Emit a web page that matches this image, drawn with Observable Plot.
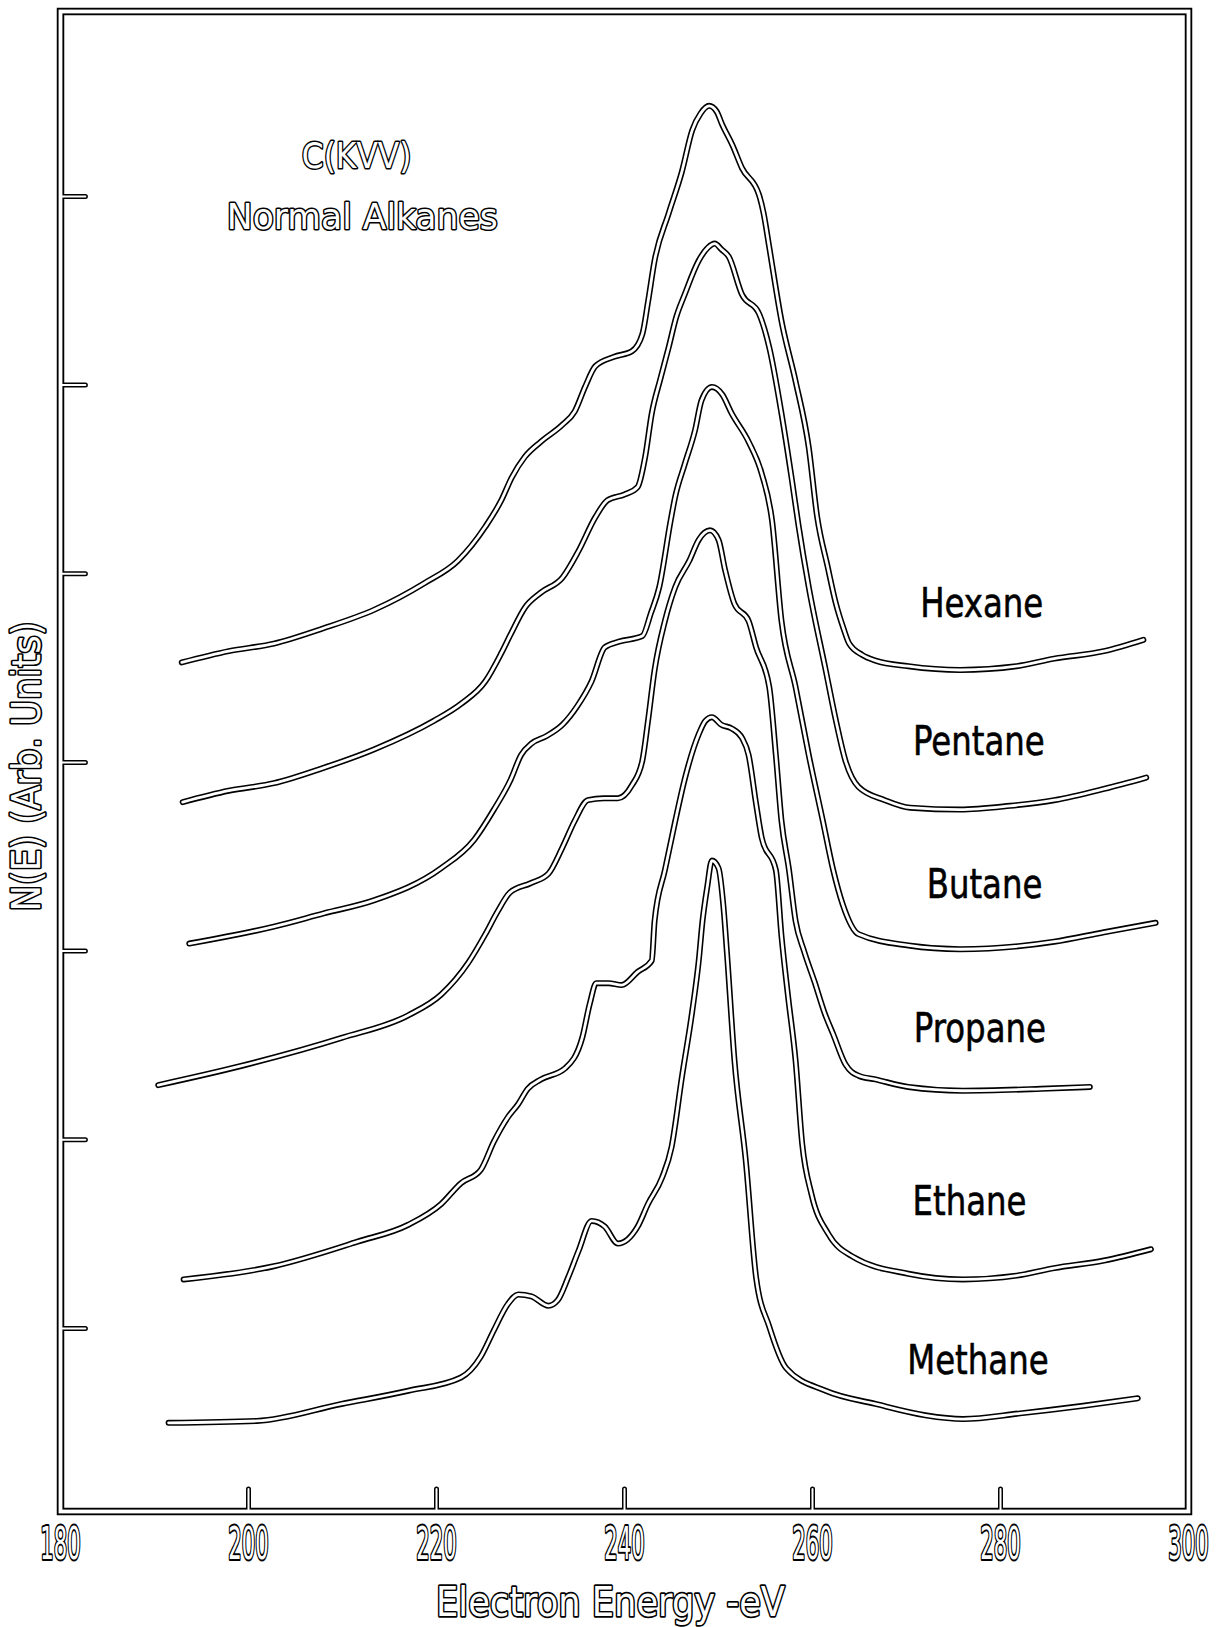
<!DOCTYPE html>
<html>
<head>
<meta charset="utf-8">
<script src="https://cdn.jsdelivr.net/npm/d3@7"></script>
<script src="https://cdn.jsdelivr.net/npm/@observablehq/plot@0.6"></script>
<style>
  body { margin: 0; background: #ffffff; }
  #chart svg { display: block; }
</style>
</head>
<body>
<div id="chart"></div>
<script>
// ---- Data: [electron energy (eV), N(E) (arb. units, offset)] ----
const seriesNames = ["Hexane", "Pentane", "Butane", "Propane", "Ethane", "Methane"];

const hexane = [
  [192.9,4.53],[197.9,4.59],[202.7,4.63],[207.9,4.71],[213.4,4.81],[218.7,4.95],[222.3,5.07],
  [225.2,5.25],[226.9,5.39],[228.0,5.51],[229.4,5.62],[231.1,5.70],[233.4,5.79],[234.7,5.86],
  [235.8,5.99],[236.9,6.10],[238.9,6.15],[240.8,6.18],[241.9,6.27],[242.5,6.44],[243.2,6.66],
  [244.7,6.91],[246.1,7.13],[247.2,7.35],[248.1,7.44],[249.0,7.48],[249.8,7.45],[250.4,7.38],
  [251.5,7.27],[252.5,7.15],[254.3,7.01],[254.8,6.91],[255.4,6.73],[256.7,6.34],[258.2,6.02],
  [259.6,5.67],[260.5,5.30],[261.6,5.04],[262.5,4.84],[263.3,4.71],[263.9,4.63],[265.3,4.57],
  [266.7,4.54],[270.2,4.51],[275.7,4.49],[281.7,4.51],[285.7,4.55],[291.0,4.59],[295.2,4.65]
];
const pentane = [
  [193.0,3.79],[197.9,3.85],[202.7,3.89],[207.9,3.97],[213.4,4.07],[219.7,4.22],[222.6,4.31],
  [225.2,4.43],[226.9,4.58],[227.9,4.68],[229.4,4.82],[231.1,4.90],[233.4,4.98],[235.1,5.12],
  [236.9,5.30],[238.2,5.39],[240.0,5.42],[241.4,5.46],[242.2,5.62],[242.9,5.85],[243.8,6.03],
  [244.7,6.20],[245.5,6.36],[246.4,6.48],[247.9,6.66],[248.9,6.73],[249.6,6.75],[250.3,6.72],
  [251.1,6.68],[252.5,6.48],[254.3,6.38],[255.4,6.20],[256.7,5.85],[257.8,5.50],[258.5,5.26],
  [259.6,4.93],[261.4,4.49],[262.5,4.22],[263.5,4.01],[264.9,3.87],[267.7,3.80],[270.4,3.76],
  [275.7,3.75],[281.0,3.77],[285.7,3.80],[291.0,3.86],[295.5,3.92]
];
const butane = [
  [193.7,3.04],[202.7,3.13],[208.0,3.20],[213.4,3.27],[220.5,3.44],[224.0,3.59],[226.1,3.75],
  [227.9,3.91],[229.0,4.04],[230.1,4.10],[231.7,4.14],[233.4,4.20],[235.0,4.30],[236.5,4.43],
  [237.9,4.61],[239.4,4.64],[241.9,4.67],[242.8,4.79],[243.7,4.93],[244.9,5.28],[245.4,5.41],
  [246.4,5.58],[247.5,5.76],[248.2,5.92],[249.3,5.99],[250.4,5.95],[251.4,5.85],[253.2,5.70],
  [254.6,5.53],[255.7,5.28],[256.7,4.75],[258.2,4.40],[259.6,4.04],[261.1,3.69],[262.2,3.43],
  [263.2,3.25],[264.9,3.09],[270.2,3.03],[275.7,3.01],[285.7,3.05],[291.0,3.10],[296.5,3.15]
];
const propane = [
  [190.4,2.29],[199.1,2.39],[209.9,2.54],[217.0,2.66],[220.5,2.77],[223.4,2.94],[225.2,3.09],
  [226.5,3.21],[227.8,3.31],[230.0,3.36],[231.9,3.41],[233.4,3.55],[234.7,3.69],[236.1,3.80],
  [237.8,3.81],[239.3,3.81],[240.8,3.88],[241.9,4.01],[242.5,4.22],[243.2,4.49],[244.3,4.75],
  [245.4,4.93],[246.9,5.07],[247.9,5.18],[249.1,5.23],[250.0,5.18],[250.7,5.02],[251.7,4.84],
  [253.2,4.75],[254.0,4.61],[255.4,4.40],[256.1,4.04],[256.7,3.69],[257.5,3.43],[258.2,3.16],
  [259.1,3.00],[260.2,2.84],[261.3,2.67],[262.2,2.56],[263.5,2.40],[264.9,2.34],[266.7,2.32],
  [270.2,2.28],[276.0,2.26],[284.3,2.27],[289.5,2.28]
];
const ethane = [
  [193.1,1.26],[202.7,1.33],[211.6,1.46],[217.0,1.55],[220.5,1.66],[222.6,1.77],[224.7,1.84],
  [226.1,1.99],[227.6,2.12],[228.7,2.19],[229.7,2.27],[231.1,2.32],[233.7,2.38],[235.5,2.54],
  [236.3,2.72],[237.0,2.83],[238.3,2.83],[239.7,2.82],[241.4,2.89],[242.9,2.95],[243.2,3.16],
  [244.3,3.43],[245.4,3.69],[246.4,3.91],[247.9,4.15],[248.6,4.22],[249.3,4.24],[250.3,4.20],
  [251.4,4.18],[252.5,4.13],[253.2,4.04],[254.0,3.78],[254.6,3.60],[256.1,3.43],[256.7,3.08],
  [257.4,2.76],[258.2,2.42],[258.9,1.98],[259.9,1.71],[261.7,1.50],[264.3,1.38],[270.2,1.29],
  [276.0,1.26],[281.7,1.28],[285.7,1.32],[291.0,1.36],[296.0,1.42]
];
const methane = [
  [191.5,0.50],[200.9,0.51],[209.9,0.60],[217.0,0.67],[222.6,0.74],[224.7,0.85],[226.1,0.99],
  [227.6,1.13],[228.7,1.18],[230.1,1.17],[231.9,1.12],[232.9,1.15],[234.0,1.27],[235.1,1.41],
  [236.5,1.57],[237.9,1.54],[239.3,1.45],[241.4,1.54],[242.5,1.66],[244.0,1.80],[245.0,1.96],
  [246.1,2.33],[247.2,2.68],[247.9,2.95],[248.3,3.16],[248.8,3.34],[249.3,3.48],[250.0,3.44],
  [250.5,3.25],[250.9,2.99],[251.7,2.42],[252.9,1.89],[254.0,1.27],[255.4,1.01],[257.2,0.79],
  [261.4,0.67],[266.7,0.60],[272.0,0.54],[276.0,0.52],[282.1,0.55],[288.8,0.59],[294.6,0.63]
];
const seriesValues = [hexane, pentane, butane, propane, ethane, methane];

// curve name labels
const labelEnergy = [278.0, 277.7, 278.3, 277.8, 276.7, 277.6];
const labelLevel  = [4.84, 4.11, 3.35, 2.59, 1.67, 0.83];

// in-plot title lines
const titleLines  = ["C(KVV)", "Normal Alkanes"];
const titleEnergy = [211.5, 212.1];
const titleLevel  = [7.21, 6.89];

// axes
const xTickLabels = [180, 200, 220, 240, 260, 280, 300];
const xTickMarks  = [200, 220, 240, 260, 280];
const yTickMarks  = [1, 2, 3, 4, 5, 6, 7];
const xLabel = "Electron Energy -eV";
const yLabel = "N(E) (Arb. Units)";

// ---- Build tables ----
const rows = seriesValues.flatMap((pts, i) =>
  pts.map(([energy, level]) => ({series: seriesNames[i], energy, level})));
const labels = seriesNames.map((name, i) => ({name, energy: labelEnergy[i], level: labelLevel[i]}));
const titles = titleLines.map((t, i) => ({text: t, energy: titleEnergy[i], level: titleLevel[i]}));

const xDomain = [180, 300];
const yDomain = [0.03, 7.98];
const lineOpts = {x: "energy", y: "level", z: "series", curve: "monotone-x",
                  strokeLinecap: "round", strokeLinejoin: "round"};
const hollow = {fill: "white", stroke: "black", paintOrder: "stroke", strokeLinejoin: "round"};

const chart = Plot.plot({
  width: 1230,
  height: 1627,
  marginLeft: 60,
  marginRight: 42,
  marginTop: 11,
  marginBottom: 116,
  x: {domain: xDomain, axis: null},
  y: {domain: yDomain, axis: null},
  style: {fontFamily: "'DejaVu Sans', sans-serif", background: "white", color: "black"},
  marks: [
    // dark outlines first
    Plot.frame({stroke: "black", strokeWidth: 7.5}),
    Plot.ruleX(xTickMarks, {x: d => d, y1: yDomain[0], y2: yDomain[0] + 0.117,
      stroke: "black", strokeWidth: 5, strokeLinecap: "round"}),
    Plot.ruleY(yTickMarks, {y: d => d, x1: xDomain[0], x2: xDomain[0] + 2.7,
      stroke: "black", strokeWidth: 5, strokeLinecap: "round"}),
    Plot.line(rows, {...lineOpts, stroke: "black", strokeWidth: 6}),
    // white cores give the hollow pen-trace look
    Plot.frame({stroke: "white", strokeWidth: 3.8}),
    Plot.ruleX(xTickMarks, {x: d => d, y1: yDomain[0], y2: yDomain[0] + 0.117,
      stroke: "white", strokeWidth: 2.0, strokeLinecap: "round"}),
    Plot.ruleY(yTickMarks, {y: d => d, x1: xDomain[0], x2: xDomain[0] + 2.7,
      stroke: "white", strokeWidth: 2.0, strokeLinecap: "round"}),
    Plot.line(rows, {...lineOpts, stroke: "white", strokeWidth: 2.8}),
    // texts
    Plot.text(xTickLabels, {x: d => d, frameAnchor: "bottom", lineAnchor: "top", dy: 16,
      text: d => String(d), fontSize: 44, ...hollow, strokeWidth: 4.2}),
    Plot.text([xLabel], {frameAnchor: "bottom", lineAnchor: "middle", textAnchor: "middle",
      dx: -14, dy: 91, text: d => d, fontSize: 41, ...hollow, strokeWidth: 3.4}),
    Plot.text([yLabel], {frameAnchor: "left", lineAnchor: "middle", textAnchor: "middle",
      rotate: -90, dx: -33, dy: 5, text: d => d, fontSize: 39, ...hollow, strokeWidth: 3.4}),
    Plot.text(titles, {x: "energy", y: "level", text: "text", lineAnchor: "middle",
      textAnchor: "middle", fontSize: 36, ...hollow, strokeWidth: 3}),
    Plot.text(labels, {x: "energy", y: "level", text: "name", lineAnchor: "middle",
      textAnchor: "middle", fontSize: 41, fill: "black", stroke: "black", strokeWidth: 0.6})
  ]
});

// horizontal condensing of the lettering-template text, matched by content
function squeeze(svg, strings, sx) {
  const wanted = new Set(strings.map(String));
  d3.select(svg).selectAll("text").each(function () {
    if (!wanted.has(this.textContent)) return;
    const t = this.getAttribute("transform") || "";
    const x = this.getAttribute("x");
    let extra = "";
    if (x !== null && !isNaN(+x) && +x !== 0) {
      extra = ` translate(${+x},0)`;
      this.setAttribute("x", 0);
    }
    this.setAttribute("transform", `${t}${extra} scale(${sx},1)`.trim());
  });
}
squeeze(chart, xTickLabels, 0.48);
squeeze(chart, [xLabel], 0.86);
squeeze(chart, [yLabel], 0.91);
squeeze(chart, [titleLines[0]], 0.87);
squeeze(chart, [titleLines[1]], 0.96);
squeeze(chart, seriesNames, 0.79);

document.getElementById("chart").appendChild(chart);
</script>
</body>
</html>
